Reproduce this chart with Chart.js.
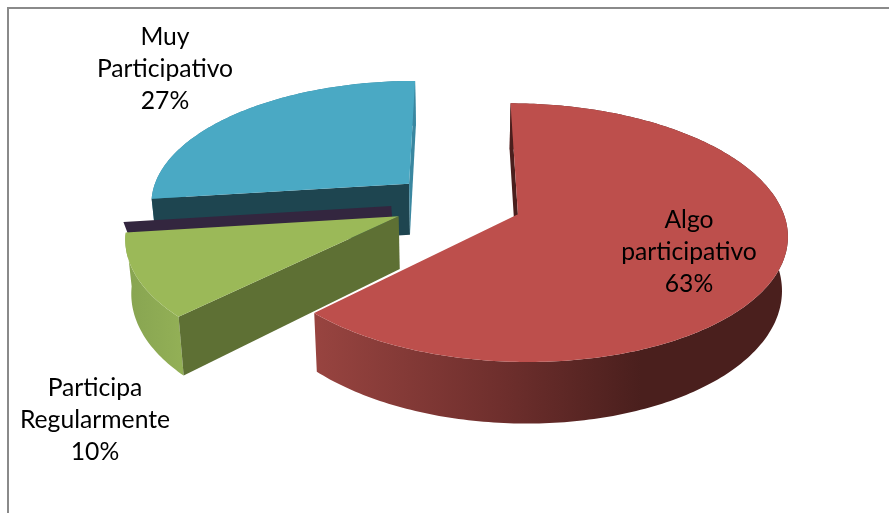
<!DOCTYPE html>
<html>
<head>
<meta charset="utf-8">
<style>
  html, body { margin: 0; padding: 0; background: #fff; overflow: hidden; }
  #frame { position: absolute; left: 7px; top: 7px; width: 882px; height: 506px; border-left: 2px solid #8a8a8a; border-top: 2px solid #8a8a8a; box-sizing: border-box; }
  #chart { position: absolute; left: 0; top: 0; }
</style>
<script src="https://cdn.jsdelivr.net/npm/chart.js@4"></script>
</head>
<body>
<div id="frame"></div>
<canvas id="chart" width="889" height="513"></canvas>
<script>
// Chart values. The last category is an empty slice, only its cut wall shows
const categories = [['Muy', 'Participativo'], ['Algo', 'participativo'], ['Participa', 'Regularmente'], []];
const values = [27, 62.6, 10.4, 0];
const topColors = ['#4aa9c4', '#bd4f4c', '#9bb958', '#33263f'];

// Fake 3D view of the flat pie
const view = {
  shiftX: 14.5, shiftY: -54.5,  // pie centre relative to the chart area centre
  radiusScale: 1.012,
  squash: 0.47,
  perspective: 0.14,
  depth: 52,
  depthShrink: 0.018
};
// per slice tuning of the exploded pie
const explodeX = [68, 63, 66, 68];
const explodeY = [60, 66, 68, 68];
const sliceRadius = [1, 1.01, 1.02, 1.012];
const labelSpots = [[165, 37], [689, 220], [95, 388]];

// face colours per slice: start cut, end cut (null = faces away from the viewer)
const startFace = ['#1e4550', '#4a1f1d', '#5e7034', '#33263f'];
const endFace = ['#3a87a0', null, null, null];

function project(cx, cy, R, X, Y, low) {
  const f = 1 / (1 - view.perspective * Y / R);
  const shrink = low ? 1 - view.depthShrink : 1;
  return {
    x: cx + X * f * shrink,
    y: cy + view.squash * Y * f + (low ? view.depth * f : 0)
  };
}

function drawPoly(ctx, pts, fill) {
  ctx.beginPath();
  pts.forEach((p, i) => { if (i === 0) ctx.moveTo(p.x, p.y); else ctx.lineTo(p.x, p.y); });
  ctx.closePath();
  ctx.fillStyle = fill;
  ctx.fill();
}

function sliceGeometry(arc, i) {
  const cx = arc.x + view.shiftX;
  const cy = arc.y + view.shiftY;
  const base = arc.outerRadius * view.radiusScale;
  const R = base * sliceRadius[i];
  const mid = (arc.startAngle + arc.endAngle) / 2;
  const ox = Math.cos(mid) * explodeX[i];
  const oy = Math.sin(mid) * explodeY[i];
  const at = (angle, r, low) => project(cx, cy, base, ox + Math.cos(angle) * r, oy + Math.sin(angle) * r, low);
  return { R, at, cx, cy };
}

function wallGradient(ctx, index, pts) {
  const xs = pts.map(p => p.x);
  const left = Math.min(...xs);
  const right = Math.max(...xs);
  const g = ctx.createLinearGradient(left, 0, right, 0);
  if (index === 1) {
    g.addColorStop(0, '#984440');
    g.addColorStop(0.39, '#6f2f2d');
    g.addColorStop(0.69, '#4a1f1d');
    g.addColorStop(1, '#4a1f1d');
  } else if (index === 2) {
    g.addColorStop(0, '#87a451');
    g.addColorStop(1, '#93b056');
  } else {
    g.addColorStop(0, '#3a87a0');
    g.addColorStop(1, '#3a87a0');
  }
  return g;
}

const pie3d = {
  id: 'pie3d',
  beforeDatasetsDraw(chart) {
    const ctx = chart.ctx;
    const arcs = chart.getDatasetMeta(0).data;
    // back to front: blue, purple, green, red
    [0, 3, 2, 1].forEach(i => {
      const arc = arcs[i];
      const g = sliceGeometry(arc, i);
      const a0 = arc.startAngle;
      const a1 = arc.endAngle;
      if (values[i] === 0) {
        // empty slice: only a thin strip of its cut wall is left in sight
        const keep = view.depth;
        view.depth = keep * 0.3;
        drawPoly(ctx, [g.at(a0, 0, false), g.at(a0, g.R, false), g.at(a0, g.R, true), g.at(a0, 0, true)], startFace[i]);
        view.depth = keep;
        return;
      }
      const steps = Math.max(12, Math.ceil((a1 - a0) * 60));
      const rimTop = [];
      const rimLow = [];
      for (let s = 0; s <= steps; s++) {
        const a = a0 + (a1 - a0) * s / steps;
        rimTop.push(g.at(a, g.R, false));
        rimLow.push(g.at(a, g.R, true));
      }
      // outer wall
      const wall = rimTop.concat(rimLow.slice().reverse());
      drawPoly(ctx, wall, wallGradient(ctx, i, wall));
      // cut walls
      drawPoly(ctx, [g.at(a0, 0, false), g.at(a0, g.R, false), g.at(a0, g.R, true), g.at(a0, 0, true)], startFace[i]);
      if (endFace[i]) {
        drawPoly(ctx, [g.at(a1, 0, false), g.at(a1, g.R, false), g.at(a1, g.R, true), g.at(a1, 0, true)], endFace[i]);
      }
      // top face
      drawPoly(ctx, [g.at(a0, 0, false)].concat(rimTop), topColors[i]);
    });
    // labels
    ctx.font = '24.7px Lato';
    ctx.fillStyle = '#000';
    ctx.textAlign = 'center';
    ctx.textBaseline = 'middle';
    values.forEach((v, i) => {
      if (v === 0) return;
      const lines = categories[i].concat(Math.round(v) + '%');
      lines.forEach((line, n) => {
        ctx.fillText(line, labelSpots[i][0], labelSpots[i][1] + n * 32);
      });
    });
    return false;  // the library's own flat arcs are not painted
  }
};

new Chart(document.getElementById('chart'), {
  type: 'pie',
  data: {
    labels: categories.map(c => c.join(' ')),
    datasets: [{ data: values, backgroundColor: topColors, borderWidth: 0 }]
  },
  options: {
    responsive: false,
    animation: false,
    rotation: -97.2,
    layout: { padding: 0 },
    plugins: { legend: { display: false }, tooltip: { enabled: false } }
  },
  plugins: [pie3d]
});
</script>
</body>
</html>
